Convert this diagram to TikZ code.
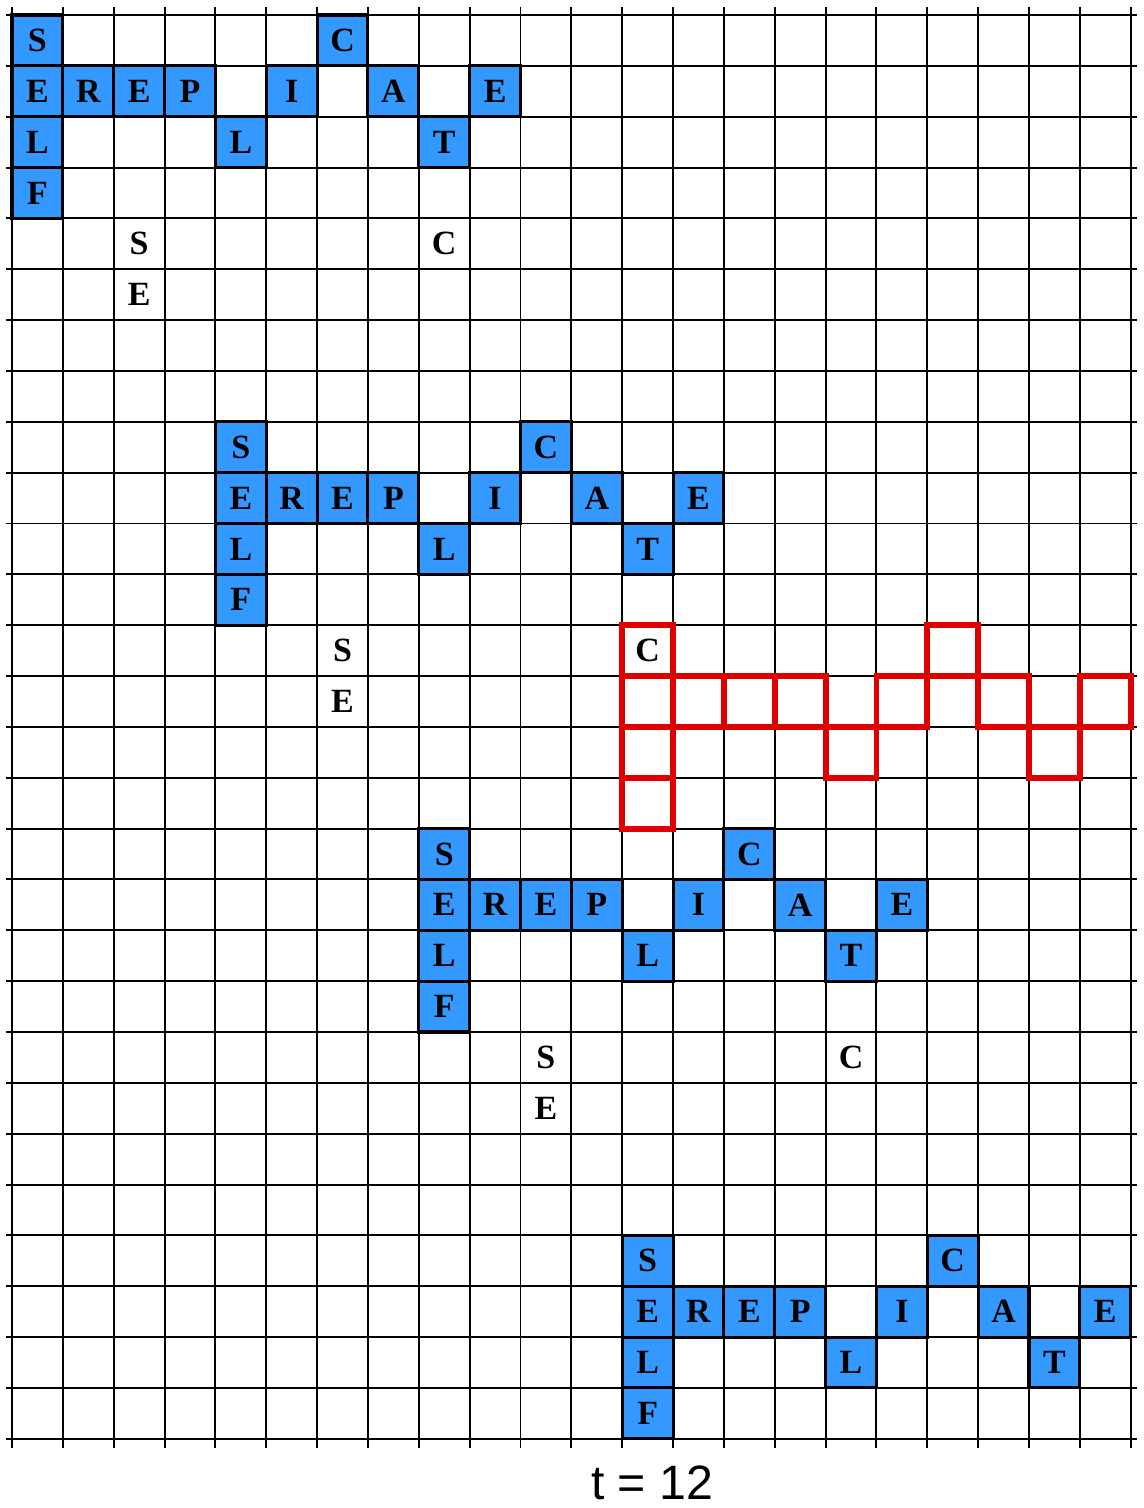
\documentclass[tikz,border=0pt]{standalone}
\usepackage{fontspec}
\setmainfont{Liberation Serif}
\newfontfamily\labelfont{Liberation Sans}
\definecolor{cellblue}{RGB}{51,153,255}
\definecolor{outlinered}{RGB}{225,0,0}
\begin{document}
\begin{tikzpicture}[x=1cm,y=1cm,
  gridline/.style={line width=1.1pt, black},
  bluecell/.style={draw=black, line width=1.7pt, fill=cellblue, minimum size=1cm, inner sep=0pt, font=\bfseries\fontsize{19}{19}\selectfont},
  redcell/.style={draw=outlinered, line width=3.3pt, minimum size=1cm, inner sep=0pt},
  plainletter/.style={inner sep=0pt, font=\bfseries\fontsize{19}{19}\selectfont},
  caption/.style={font=\labelfont\fontsize{27}{27}\selectfont, anchor=base, inner sep=0pt}]
\useasboundingbox (-0.236,0.295) rectangle (22.242,-29.361);
% grid
\foreach \c in {0,...,22} \draw[gridline] (\c,0.15) -- (\c,-28.18);
\foreach \r in {0,...,28} \draw[gridline] (-0.12,-\r) -- (22.12,-\r);
% pattern
\def\pattern{0/0/S, 6/0/C, 0/1/E, 1/1/R, 2/1/E, 3/1/P, 5/1/I, 7/1/A, 9/1/E, 0/2/L, 4/2/L, 8/2/T, 0/3/F}
\foreach \ox/\oy/\k in {0/0/1, 4/8/2, 8/16/3, 12/24/4} {
  \foreach \dx/\dy/\l [count=\i] in \pattern {
    \node[bluecell] (p\k-\i) at (\ox+\dx+0.5, -\oy-\dy-0.5) {\l};
  }
}
% red outline copy
\foreach \dx/\dy/\l [count=\i] in \pattern {
  \node[redcell] (r-\i) at (12+\dx+0.5, -12-\dy-0.5) {};
}
% loose letters
\node[plainletter] (s1) at (2.5,-4.5) {S};
\node[plainletter] (e1) at (2.5,-5.5) {E};
\node[plainletter] (c1) at (8.5,-4.5) {C};
\node[plainletter] (s2) at (6.5,-12.5) {S};
\node[plainletter] (e2) at (6.5,-13.5) {E};
\node[plainletter] (c2) at (12.5,-12.5) {C};
\node[plainletter] (s3) at (10.5,-20.5) {S};
\node[plainletter] (e3) at (10.5,-21.5) {E};
\node[plainletter] (c3) at (16.5,-20.5) {C};
% caption
\node[caption] (t) at (12.59,-29.20) {t = 12};
\end{tikzpicture}
\end{document}
